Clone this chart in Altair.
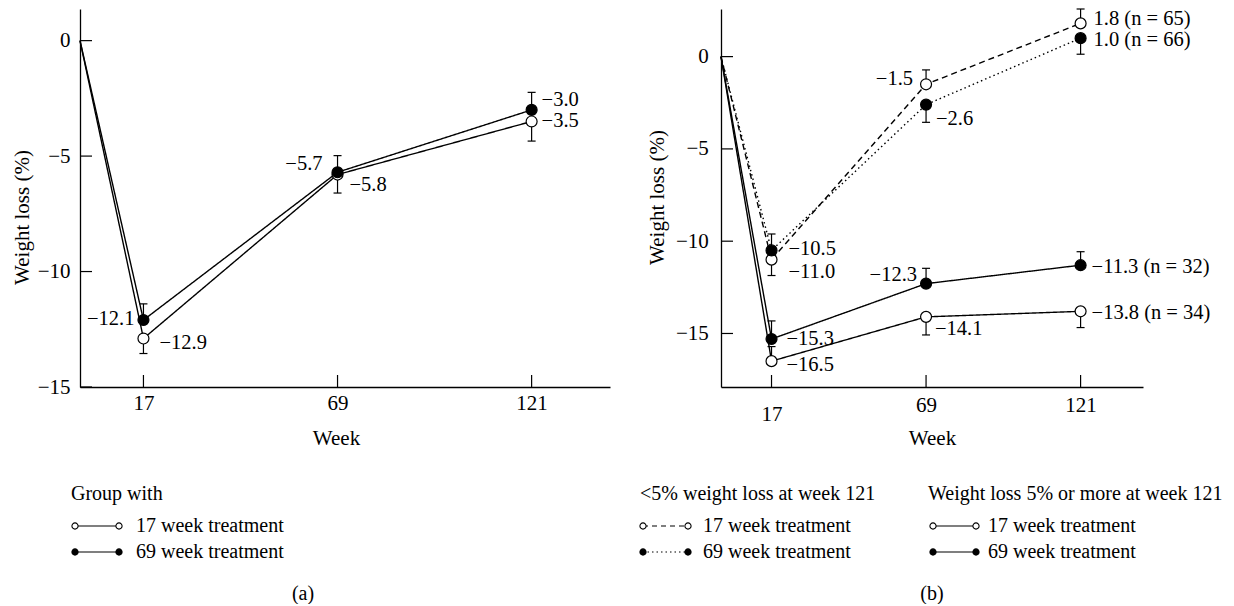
import altair as alt
import pandas as pd

FONT = "Liberation Serif"
FS = 21      # axis texts
PFS = 20.5   # point labels
LFS = 20     # legend texts

# ---------------- data ----------------
weeks = [0, 17, 69, 121]
x_ticks = [17, 69, 121]

# Panel (a)
a_series = ["17 week treatment", "69 week treatment"]
a_values = {
    "17 week treatment": [0, -12.9, -5.8, -3.5],
    "69 week treatment": [0, -12.1, -5.7, -3.0],
}
a_err_end = {
    "17 week treatment": [None, -13.55, -6.6, -4.35],
    "69 week treatment": [None, -11.4, -4.98, -2.24],
}
a_yticks = [0, -5, -10, -15]

# Panel (b)
b_series = ["<5% 17 week", "<5% 69 week", ">=5% 17 week", ">=5% 69 week"]
b_values = {
    "<5% 17 week": [0, -11.0, -1.5, 1.8],
    "<5% 69 week": [0, -10.5, -2.6, 1.0],
    ">=5% 17 week": [0, -16.5, -14.1, -13.8],
    ">=5% 69 week": [0, -15.3, -12.3, -11.3],
}
b_err_end = {
    "<5% 17 week": [None, -11.86, -0.72, 2.58],
    "<5% 69 week": [None, -9.61, -3.56, 0.13],
    ">=5% 17 week": [None, -15.71, -15.08, -14.68],
    ">=5% 69 week": [None, -14.32, -11.47, -10.57],
}
b_n = {"<5% 17 week": 65, "<5% 69 week": 66, ">=5% 17 week": 34, ">=5% 69 week": 32}
b_yticks = [0, -5, -10, -15]


def fmt(v):
    return f"{v:.1f}".replace("-", "\u2212")


def build_df(series_list, values, err_end, n=None):
    rows = []
    for s in series_list:
        for i, w in enumerate(weeks):
            v = values[s][i]
            lab = fmt(v)
            if n is not None and w == weeks[-1]:
                lab += f" (n = {n[s]})"
            rows.append(dict(series=s, week=w, value=v, err=err_end[s][i], label=lab))
    return pd.DataFrame(rows)


df_a = build_df(a_series, a_values, a_err_end)
df_b = build_df(b_series, b_values, b_err_end, b_n)

one = alt.Data(values=[{"k": 0}])


def panel(df, series, dash_range, fill_range, W, H, ydom, yticks,
          ytitle_x, ytitle_y, ylabpad, xtitle_x, xlabpad, label_specs, legend):
    xs = alt.Scale(domain=[0, 142], nice=False, zero=False)
    ys = alt.Scale(domain=ydom, nice=False, zero=False)
    x = alt.X("week:Q", scale=xs,
              axis=alt.Axis(values=x_ticks, title="Week", titleX=xtitle_x, titleY=51,
                            titleBaseline="middle", titleAlign="center",
                            labelPadding=xlabpad, ticks=False, tickSize=0, grid=False,
                            labelFlush=False, labelOverlap=False))
    y = alt.Y("value:Q", scale=ys,
              axis=alt.Axis(values=yticks, title="Weight loss (%)", titleX=ytitle_x,
                            titleY=ytitle_y, titleAngle=-90, titleAlign="center",
                            titleBaseline="middle", labelPadding=ylabpad, ticks=False,
                            tickSize=0, grid=False, labelFlush=False, labelOverlap=False,
                            labelExpr="replace(datum.label, '-', '\u2212')"))

    base = alt.Chart(df)
    lines = base.mark_line(color="black", strokeWidth=1.4).encode(
        x=x, y=y,
        detail="series:N",
        strokeDash=alt.StrokeDash("series:N", scale=alt.Scale(domain=series, range=dash_range),
                                  legend=None),
    )
    df_err = df[df["err"].notna()]
    stems = alt.Chart(df_err).mark_rule(color="black", strokeWidth=1.2).encode(
        x="week:Q", y="value:Q", y2="err:Q")
    caps = alt.Chart(df_err).mark_tick(orient="horizontal", size=8, thickness=1.2,
                                       color="black", opacity=1).encode(
        x="week:Q", y="err:Q")
    pts = alt.Chart(df[df["week"] > 0]).mark_point(
        filled=True, size=120, stroke="black", strokeWidth=1.2, opacity=1, shape="circle"
    ).encode(
        x="week:Q", y="value:Q",
        fill=alt.Fill("series:N", scale=alt.Scale(domain=series, range=fill_range), legend=None),
    )
    # inward ticks
    ytk = alt.Chart(pd.DataFrame({"value": yticks})).mark_rule(color="black", strokeWidth=1.2).encode(
        y="value:Q", x=alt.value(0), x2=alt.value(12))
    xtk = alt.Chart(pd.DataFrame({"week": x_ticks})).mark_rule(color="black", strokeWidth=1.2).encode(
        x="week:Q", y=alt.value(H), y2=alt.value(H - 12))

    layers = [lines, stems, caps, pts, ytk, xtk]
    for (s, w, align, dx, dy) in label_specs:
        sub = df[(df["series"] == s) & (df["week"] == w)]
        layers.append(
            alt.Chart(sub).mark_text(align=align, dx=dx, dy=dy, baseline="middle",
                                     font=FONT, fontSize=PFS, color="black").encode(
                x="week:Q", y="value:Q", text="label:N"))
    layers += legend
    return alt.layer(*layers).properties(width=W, height=H)


def txt(s, x, y, align="left"):
    return alt.Chart(one).mark_text(align=align, baseline="middle", font=FONT, fontSize=LFS,
                                    color="black").encode(
        x=alt.value(x), y=alt.value(y), text=alt.value(s))


def sym(x1, x2, y, dash, filled):
    line = alt.Chart(one).mark_rule(color="black", strokeWidth=1.2, strokeDash=dash).encode(
        x=alt.value(x1), x2=alt.value(x2), y=alt.value(y))
    c1 = alt.Chart(one).mark_point(filled=True, size=38, stroke="black", strokeWidth=1.1,
                                   fill="black" if filled else "white", opacity=1).encode(
        x=alt.value(x1), y=alt.value(y))
    c2 = alt.Chart(one).mark_point(filled=True, size=38, stroke="black", strokeWidth=1.1,
                                   fill="black" if filled else "white", opacity=1).encode(
        x=alt.value(x2), y=alt.value(y))
    return [line, c1, c2]


H = 378

legend_a = ([txt("Group with", -9, 485)]
            + sym(-5, 39, 517, [1, 0], False) + [txt("17 week treatment", 56, 517)]
            + sym(-5, 39, 543, [1, 0], True) + [txt("69 week treatment", 56, 543)]
            + [txt("(a)", 223, 585, "center")])

legend_b = ([txt("<5% weight loss at week 121", -81, 485)]
            + sym(-78, -33, 517, [5, 4], False) + [txt("17 week treatment", -18, 517)]
            + sym(-78, -33, 543, [1.5, 3], True) + [txt("69 week treatment", -18, 543)]
            + [txt("Weight loss 5% or more at week 121", 207, 485)]
            + sym(212, 255, 517, [1, 0], False) + [txt("17 week treatment", 267, 517)]
            + sym(212, 255, 543, [1, 0], True) + [txt("69 week treatment", 267, 543)]
            + [txt("(b)", 211, 585, "center")])

labels_a = [
    ("69 week treatment", 17, "right", -9, -1),
    ("17 week treatment", 17, "left", 16, 4),
    ("69 week treatment", 69, "right", -15, -8),
    ("17 week treatment", 69, "left", 12, 10),
    ("69 week treatment", 121, "left", 10, -10),
    ("17 week treatment", 121, "left", 10, 0),
]

labels_b = [
    ("<5% 17 week", 121, "left", 13, -4),
    ("<5% 69 week", 121, "left", 13, 2),
    ("<5% 17 week", 69, "right", -13, -5),
    ("<5% 69 week", 69, "left", 10, 14),
    ("<5% 69 week", 17, "left", 17, -1),
    ("<5% 17 week", 17, "left", 17, 12),
    (">=5% 69 week", 69, "right", -9, -9),
    (">=5% 17 week", 69, "left", 9, 12),
    (">=5% 69 week", 121, "left", 11, 2),
    (">=5% 17 week", 121, "left", 11, 2),
    (">=5% 69 week", 17, "left", 15, 0),
    (">=5% 17 week", 17, "left", 15, 4),
]

left = panel(df_a, a_series, [[1, 0], [1, 0]], ["white", "black"], 530, H,
             [-15, 1.37], a_yticks, -57.5, 208, 10, 256, 5, labels_a, legend_a)

right = panel(df_b, b_series, [[6, 4], [1.5, 3], [1, 0], [1, 0]],
              ["white", "black", "white", "black"], 422, H,
              [-17.9, 2.58], b_yticks, -63.7, 188, 12.7, 211,
              {"condition": {"test": "datum.value == 17", "value": 16}, "value": 7},
              labels_b, legend_b)

chart = alt.hconcat(left, right, spacing=27).resolve_scale(
    strokeDash="independent", fill="independent"
).properties(
    padding={"left": 3, "top": 0, "right": 0, "bottom": 0}
).configure_view(stroke=None).configure_axis(
    domainColor="black", domainWidth=1.3, labelFont=FONT, labelFontSize=FS,
    labelColor="black", titleFont=FONT, titleFontSize=FS, titleFontWeight="normal",
    titleColor="black",
).configure_text(font=FONT)

chart.save("out.html", embed_options={"renderer": "svg", "actions": False})
